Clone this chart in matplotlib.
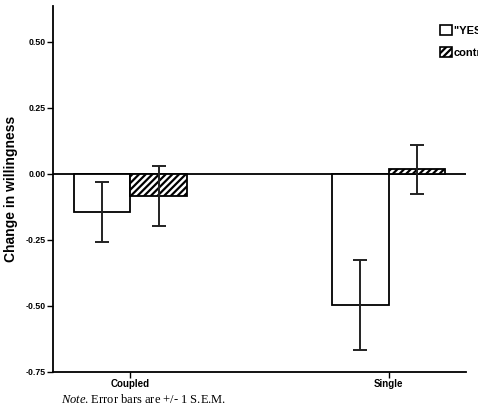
import matplotlib.pyplot as plt
from matplotlib.patches import Patch

# bar chart: change in willingness by condition
groups = ["Coupled", "Single"]
yes_vals = [-0.144, -0.497]
yes_err = [0.113, 0.17]
ctrl_vals = [-0.083, 0.018]
ctrl_err = [0.113, 0.093]
labels = ['"YES" condition', "control"]
yticks = [-0.75, -0.50, -0.25, 0.00, 0.25, 0.50]

plt.rcParams["font.family"] = ["Liberation Sans", "DejaVu Sans"]
plt.rcParams["hatch.linewidth"] = 1.6
plt.rcParams["mathtext.fontset"] = "custom"
plt.rcParams["mathtext.it"] = "Liberation Serif:italic"
plt.rcParams["mathtext.rm"] = "Liberation Serif"

fig = plt.figure(figsize=(4.78, 4.05), dpi=100)
ax = fig.add_axes([0.111, 0.0815, 0.864, 0.9035])

w = 0.22
x = list(range(len(groups)))
ax.bar([i - w / 2 for i in x], yes_vals, width=w, color="white",
       edgecolor="black", linewidth=1.3, zorder=2)
ax.bar([i + w / 2 for i in x], ctrl_vals, width=w, color="white",
       edgecolor="black", hatch="/////", linewidth=1.3, zorder=2)
ax.errorbar([i - w / 2 for i in x], yes_vals, yerr=yes_err, fmt="none",
            ecolor="#222222", elinewidth=1.4, capsize=5, capthick=1.4, zorder=3)
ax.errorbar([i + w / 2 for i in x], ctrl_vals, yerr=ctrl_err, fmt="none",
            ecolor="#222222", elinewidth=1.4, capsize=5, capthick=1.4, zorder=3)

ax.axhline(0, color="black", linewidth=1.3, zorder=1)
ax.set_xlim(-0.3, 1.3)
ax.set_ylim(-0.75, 0.636)
ax.set_xticks(x)
ax.set_xticklabels(groups, fontsize=7, fontweight="bold")
ax.set_yticks(yticks)
ax.set_yticklabels(["%.2f" % v for v in yticks], fontsize=6.3, fontweight="bold")
ax.tick_params(direction="out", length=4, width=1, pad=1)
for side in ["top", "right"]:
    ax.spines[side].set_visible(False)
for side in ["left", "bottom"]:
    ax.spines[side].set_linewidth(1.3)
ax.set_ylabel("Change in willingness", fontsize=10, fontweight="bold", labelpad=6)

handles = [Patch(facecolor="white", edgecolor="black", linewidth=1.2),
           Patch(facecolor="white", edgecolor="black", hatch="/////", linewidth=1.2)]
ax.legend(handles, labels, loc="upper left", bbox_to_anchor=(0.938, 0.948),
          frameon=False, prop={"weight": "bold", "size": 8},
          borderaxespad=0, borderpad=0,
          handlelength=1.0, handleheight=1.0, handletextpad=0.2, labelspacing=1.0)

fig.text(0.128, 0.03, r"$\it{Note}$. Error bars are +/- 1 S.E.M.", fontsize=9,
         family="Liberation Serif", va="top", ha="left")

fig.savefig("out.png", dpi=100)
